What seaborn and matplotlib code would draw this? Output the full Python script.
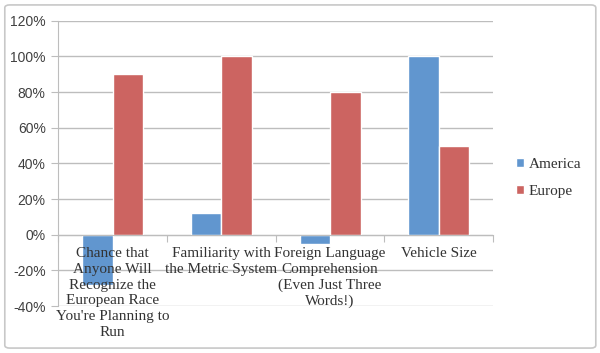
import seaborn as sns
import matplotlib.pyplot as plt
import pandas as pd
from matplotlib.patches import FancyBboxPatch
from matplotlib.ticker import PercentFormatter

# chart values
categories = [
    "Chance that\nAnyone Will\nRecognize the\nEuropean Race\nYou're Planning to\nRun",
    "Familiarity with\nthe Metric System",
    "Foreign Language\nComprehension\n(Even Just Three\nWords!)",
    "Vehicle Size",
]
america = [-28, 12, -5, 100]
europe = [90, 100, 80, 50]
series = ["America", "Europe"]
yticks = [-40, -20, 0, 20, 40, 60, 80, 100, 120]

df = pd.DataFrame({
    "cat": list(range(4)) * 2,
    "series": [series[0]] * 4 + [series[1]] * 4,
    "value": america + europe,
})

sns.set_style("white")
plt.rcParams["font.family"] = ["Liberation Serif", "DejaVu Serif"]
plt.rcParams["axes.unicode_minus"] = False

fig = plt.figure(figsize=(6, 3.53), dpi=100)
ax = fig.add_axes([0.097, 0.133, 0.725, 0.808])

sns.barplot(data=df, x="cat", y="value", hue="series", ax=ax,
            palette=["#6196cf", "#cc6461"], width=0.56, gap=0,
            saturation=1, errorbar=None)

grid_c = "#bdbdbd"
ax.set_ylim(-40, 120)
ax.set_yticks(yticks)
ax.yaxis.set_major_formatter(PercentFormatter(decimals=0))
ax.set_xlim(-0.5, 3.5)
ax.set_axisbelow(True)
ax.yaxis.grid(True, color=grid_c, linewidth=1)
ax.set_xlabel("")
ax.set_ylabel("")

for s in ["top", "right"]:
    ax.spines[s].set_visible(False)
ax.spines["left"].set_color(grid_c)
ax.spines["bottom"].set_color(grid_c)
ax.spines["bottom"].set_position(("data", 0))

ax.set_xticks([-0.5, 0.5, 1.5, 2.5, 3.5])
ax.set_xticklabels([])
ax.tick_params(axis="x", direction="out", length=5, color=grid_c, bottom=True)
ax.tick_params(axis="y", direction="out", length=5, color=grid_c, left=True,
               labelsize=10, labelcolor="#404040", pad=4)
for lab in ax.get_yticklabels():
    lab.set_fontfamily(["Liberation Sans", "DejaVu Sans"])

for i, c in enumerate(categories):
    ax.annotate(c, xy=(i, 0), xytext=(0, -9), textcoords="offset points",
                ha="center", va="top", fontsize=11, color="#333333",
                linespacing=1.27)

ax.legend(loc="center left", bbox_to_anchor=(1.02, 0.45), frameon=False,
          fontsize=11, handlelength=0.55, handleheight=0.55,
          handletextpad=0.3, labelspacing=0.9, labelcolor="#333333")

border = FancyBboxPatch((0.008, 0.014), 0.985, 0.972,
                        boxstyle="round,pad=0,rounding_size=0.008",
                        transform=fig.transFigure, fill=False,
                        edgecolor="#c8c8c8", linewidth=1.2)
fig.patches.append(border)

fig.savefig("out.png", dpi=100)
